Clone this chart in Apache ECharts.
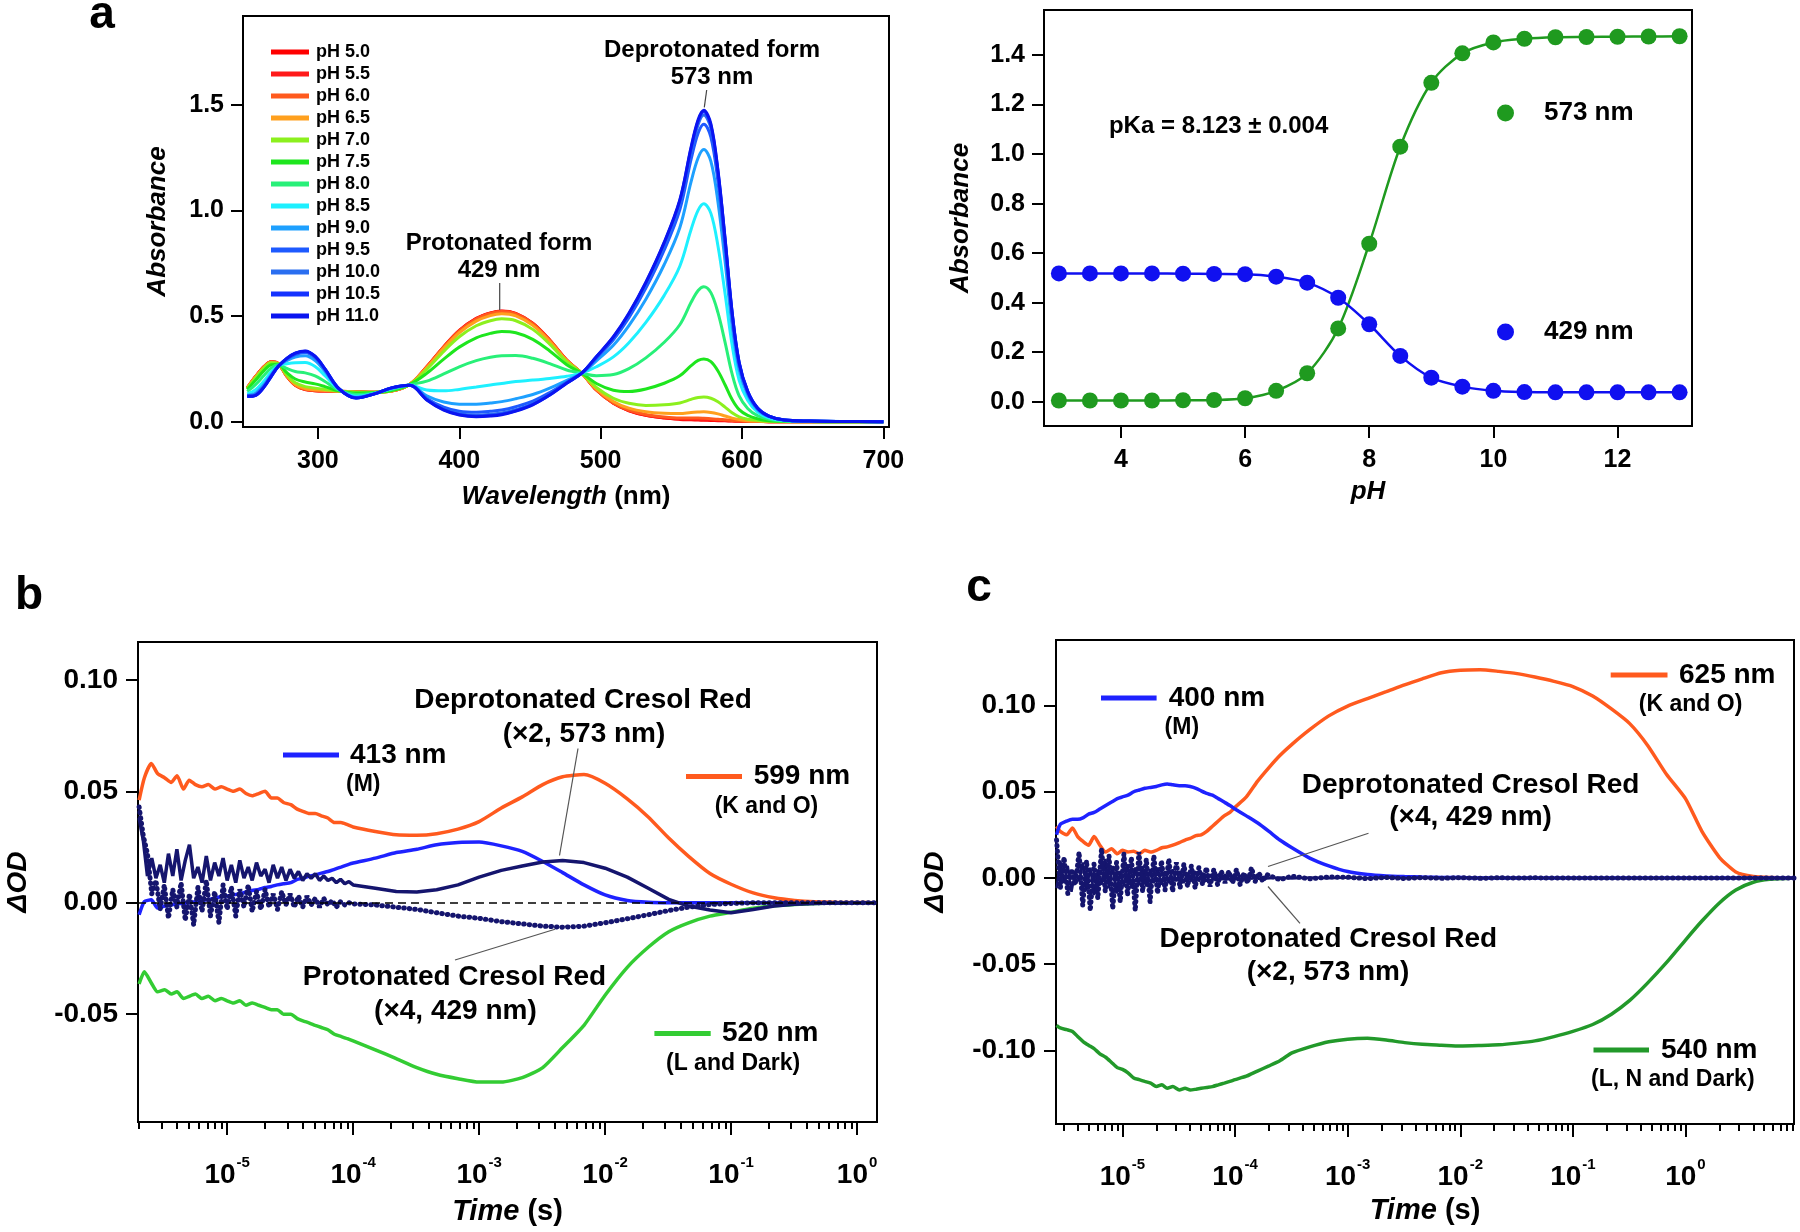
<!DOCTYPE html>
<html>
<head>
<meta charset="utf-8">
<title>Cresol red spectra and kinetics</title>
<script src="https://cdn.jsdelivr.net/npm/echarts@6/dist/echarts.min.js"></script>
<style>
  html, body { margin: 0; padding: 0; background: #fff; }
  #chart { width: 1800px; height: 1232px; }
</style>
</head>
<body>
<div id="chart"></div>
<script>
const FONT = '"Liberation Sans", Arial, Helvetica, sans-serif';

// ---- panel a (left): absorption spectra at different pH ----
const wavelength = [250,256,262,267,272,278,284,291,298,305,315,327,340,352,365,377,389,400,412,422,430,440,452,464,476,487,497,509,520,532,545,556,564,569,573,578,583,588,593,598,604,611,619,630,648,670,700];
const phLabels = ['pH 5.0','pH 5.5','pH 6.0','pH 6.5','pH 7.0','pH 7.5','pH 8.0','pH 8.5','pH 9.0','pH 9.5','pH 10.0','pH 10.5','pH 11.0'];
const phColors = ['#ff0000','#ff1a1a','#ff5a1e','#ffa01e','#8cf01e','#1ee61e','#28f078','#1ef0ff','#1ea0ff','#1e5aff','#2a6ef0','#1432ff','#0a14f0'];
const spec50 = [.160,.215,.262,.284,.275,.215,.172,.152,.147,.145,.144,.142,.140,.145,.177,.260,.355,.432,.489,.515,.524,.513,.466,.387,.292,.227,.150,.087,.052,.030,.017,.011,.009,.008,.007,.006,.005,.004,.003,.002,.001,.001,0,0,0,0,0];
const spec55 = [.160,.215,.262,.284,.275,.215,.172,.152,.147,.145,.144,.142,.140,.145,.177,.260,.354,.431,.488,.514,.523,.512,.465,.386,.292,.227,.150,.088,.053,.031,.019,.013,.012,.011,.010,.009,.007,.006,.004,.003,.001,.001,0,0,0,0,0];
const spec60 = [.160,.214,.261,.284,.275,.216,.173,.153,.148,.146,.144,.142,.140,.145,.177,.259,.353,.430,.486,.512,.521,.510,.464,.385,.291,.227,.151,.089,.055,.034,.022,.017,.017,.017,.016,.014,.012,.009,.006,.004,.002,.001,0,0,0,0,0];
const spec65 = [.159,.213,.259,.282,.275,.217,.176,.157,.151,.148,.144,.141,.140,.145,.177,.256,.347,.421,.476,.502,.511,.501,.456,.380,.289,.227,.154,.096,.064,.047,.040,.039,.044,.046,.047,.044,.037,.027,.017,.010,.005,.003,.001,0,0,0,0];
const spec70 = [.157,.208,.255,.279,.274,.221,.184,.166,.159,.153,.145,.140,.139,.146,.177,.248,.333,.402,.454,.478,.487,.478,.437,.367,.284,.227,.162,.111,.087,.077,.080,.089,.106,.115,.117,.111,.094,.069,.042,.023,.012,.006,.002,.001,0,0,0];
const spec75 = [.152,.197,.243,.270,.272,.232,.202,.188,.179,.166,.146,.136,.138,.148,.176,.229,.296,.353,.397,.418,.427,.421,.390,.335,.270,.228,.181,.149,.143,.155,.182,.217,.265,.290,.297,.284,.240,.175,.105,.057,.030,.014,.005,.002,.001,0,0];
const spec80 = [.143,.176,.220,.254,.269,.252,.238,.231,.217,.190,.149,.129,.137,.152,.175,.192,.226,.260,.289,.305,.312,.313,.300,.275,.245,.229,.218,.223,.251,.302,.376,.459,.565,.621,.639,.611,.516,.377,.226,.122,.063,.029,.012,.003,.001,0,0];
const spec85 = [.132,.152,.194,.236,.266,.274,.279,.280,.261,.218,.152,.121,.134,.156,.174,.150,.146,.153,.164,.174,.181,.190,.197,.205,.215,.231,.260,.307,.374,.470,.598,.736,.910,1.001,1.031,.986,.832,.608,.364,.196,.102,.046,.019,.006,.002,.001,0];
const spec90 = [.125,.136,.177,.224,.264,.289,.306,.312,.289,.237,.154,.116,.133,.158,.173,.123,.093,.083,.083,.089,.095,.109,.129,.159,.196,.231,.288,.362,.455,.580,.744,.918,1.136,1.249,1.288,1.232,1.040,.760,.454,.245,.127,.057,.024,.007,.003,.001,0];
const spec95 = [.122,.129,.169,.218,.263,.296,.318,.327,.303,.245,.155,.113,.132,.159,.172,.110,.069,.050,.045,.049,.055,.071,.097,.138,.187,.232,.301,.388,.492,.632,.813,1.003,1.242,1.366,1.408,1.347,1.137,.831,.497,.268,.139,.062,.026,.008,.003,.001,0];
const spec100 = [.121,.126,.167,.216,.262,.299,.323,.332,.307,.248,.155,.113,.132,.160,.172,.106,.060,.038,.031,.035,.041,.057,.086,.130,.184,.232,.306,.397,.506,.650,.837,1.033,1.279,1.407,1.451,1.388,1.171,.856,.512,.276,.143,.064,.027,.008,.003,.001,0];
const spec105 = [.120,.125,.166,.215,.262,.300,.324,.334,.309,.250,.155,.112,.132,.160,.172,.104,.057,.034,.026,.029,.036,.052,.082,.127,.183,.232,.307,.400,.511,.657,.846,1.045,1.294,1.423,1.467,1.403,1.184,.866,.517,.279,.144,.065,.027,.008,.003,.001,0];
const spec110 = [.120,.125,.165,.215,.262,.300,.325,.335,.310,.250,.155,.112,.132,.160,.172,.103,.055,.032,.024,.027,.033,.050,.080,.126,.182,.232,.308,.402,.513,.660,.850,1.050,1.300,1.430,1.474,1.410,1.190,.870,.520,.280,.145,.065,.027,.008,.003,.001,0];
const spectra = [spec50,spec55,spec60,spec65,spec70,spec75,spec80,spec85,spec90,spec95,spec100,spec105,spec110];

// ---- panel a (right): titration ----
const phPoints = [3,3.5,4,4.5,5,5.5,6,6.5,7,7.5,8,8.5,9,9.5,10,10.5,11,11.5,12,12.5,13];
const abs573 = [0.005,0.005,0.005,0.005,0.006,0.007,0.014,0.044,0.115,0.296,0.638,1.030,1.288,1.407,1.451,1.466,1.472,1.473,1.474,1.475,1.476];
const abs429 = [0.518,0.518,0.518,0.518,0.517,0.516,0.515,0.505,0.481,0.420,0.313,0.185,0.097,0.061,0.044,0.039,0.038,0.038,0.038,0.038,0.038];

// ---- panel b: transient absorption ----
const timeB = [2.0e-6,2.2e-6,2.5e-6,2.8e-6,3.2e-6,3.6e-6,4.0e-6,4.5e-6,5.0e-6,5.6e-6,6.3e-6,7.1e-6,8.0e-6,9.0e-6,
  1.0e-5,1.12e-5,1.26e-5,1.41e-5,1.58e-5,1.78e-5,2.0e-5,2.24e-5,2.5e-5,2.8e-5,3.2e-5,3.6e-5,4.0e-5,4.5e-5,5.0e-5,5.6e-5,6.3e-5,7.1e-5,8.0e-5,9.0e-5,
  1.0e-4,1.5e-4,2.2e-4,3.2e-4,4.6e-4,6.8e-4,1.0e-3,1.5e-3,2.2e-3,3.2e-3,4.6e-3,6.8e-3,
  1.0e-2,1.5e-2,2.2e-2,3.2e-2,4.6e-2,6.8e-2,0.1,0.15,0.22,0.32,0.46,0.68,1.0,1.4];
// denser sampling of the noisy early part for the cresol red traces
const timeBn = [2.00e-6,2.16e-6,2.33e-6,2.52e-6,2.72e-6,2.94e-6,3.17e-6,3.42e-6,3.70e-6,3.99e-6,4.31e-6,4.65e-6,5.02e-6,5.42e-6,5.86e-6,6.32e-6,6.83e-6,7.37e-6,7.96e-6,8.60e-6,9.28e-6,
  1.00e-5,1.08e-5,1.17e-5,1.26e-5,1.36e-5,1.47e-5,1.58e-5,1.71e-5,1.85e-5,2.00e-5,2.15e-5,2.32e-5,2.51e-5,2.71e-5,2.93e-5,3.16e-5,3.41e-5,3.68e-5,3.98e-5,4.30e-5,4.64e-5,5.01e-5,5.41e-5,5.84e-5,6.31e-5,6.81e-5,7.36e-5,7.94e-5,8.58e-5,9.26e-5,
  1.0e-4,1.5e-4,2.2e-4,3.2e-4,4.6e-4,6.8e-4,1.0e-3,1.5e-3,2.2e-3,3.2e-3,4.6e-3,6.8e-3,
  1.0e-2,1.5e-2,2.2e-2,3.2e-2,4.6e-2,6.8e-2,0.1,0.15,0.22,0.32,0.46,0.68,1.0,1.4];
const b599 = [0.046,0.056,0.0625,0.058,0.056,0.054,0.057,0.051,0.055,0.053,0.052,0.053,0.051,0.052,
  0.051,0.050,0.051,0.049,0.048,0.049,0.050,0.047,0.047,0.045,0.044,0.042,0.041,0.040,0.040,0.039,0.038,0.036,0.036,0.035,
  0.034,0.032,0.0305,0.0303,0.031,0.033,0.0364,0.0425,0.0475,0.053,0.0565,0.0575,
  0.0536,0.0466,0.0385,0.029,0.0208,0.0131,0.0083,0.0044,0.0022,0.001,0.0004,0.0002,0.0001,0];
const b413 = [-0.0054,0.0005,0.0013,-0.0024,-0.0015,-0.001,-0.0005,-0.0003,0.0,0.0005,0.001,0.0015,0.002,0.0028,
  0.003,0.0035,0.004,0.0048,0.0055,0.006,0.0068,0.0073,0.008,0.0085,0.009,0.0105,0.011,0.012,0.0125,0.0133,0.014,0.015,0.016,0.017,
  0.0178,0.020,0.0225,0.024,0.026,0.027,0.0272,0.0255,0.023,0.0185,0.0135,0.008,
  0.0035,0.001,0.0002,0,0,0,0,0,0,0,0,0,0,0];
const b573x2 = [0.038,0.028,0.012,0.020,0.011,0.017,0.009,0.022,0.012,0.024,0.010,0.019,0.026,0.011,0.016,0.009,0.021,0.010,0.018,0.012,0.020,
  0.010,0.017,0.009,0.019,0.011,0.016,0.010,0.018,0.012,0.015,0.009,0.017,0.011,0.016,0.010,0.015,0.011,0.014,0.010,0.013,0.011,0.013,0.010,0.012,0.010,0.011,0.009,0.0105,0.0085,0.0095,
  0.008,0.0065,0.005,0.0048,0.0058,0.008,0.0115,0.0145,0.0165,0.0183,0.019,0.018,
  0.0155,0.0115,0.0065,0.0015,-0.0015,-0.0033,-0.0045,-0.003,-0.0015,-0.0007,-0.0003,-0.0001,0,0];
const b429x4 = [0.043,0.030,0.022,0.004,0.010,-0.003,0.008,-0.007,0.006,-0.002,0.009,-0.008,0.004,-0.010,0.007,-0.004,0.010,-0.006,0.005,-0.009,0.008,
  -0.003,0.007,-0.006,0.006,-0.002,0.008,-0.004,0.005,-0.003,0.006,-0.002,0.004,-0.003,0.005,-0.001,0.004,-0.002,0.003,-0.002,0.003,-0.001,0.002,-0.002,0.002,-0.001,0.001,-0.002,0.0005,-0.001,0.0,
  -0.0005,-0.001,-0.002,-0.003,-0.0045,-0.006,-0.007,-0.0085,-0.0095,-0.0105,-0.011,-0.0105,
  -0.009,-0.0072,-0.0054,-0.0035,-0.002,-0.0008,-0.0003,0,0,0,0,0,0,0];
const b520 = [-0.0365,-0.031,-0.036,-0.040,-0.039,-0.041,-0.040,-0.043,-0.042,-0.041,-0.043,-0.042,-0.044,-0.043,
  -0.044,-0.045,-0.044,-0.046,-0.045,-0.046,-0.047,-0.048,-0.048,-0.050,-0.050,-0.052,-0.053,-0.054,-0.055,-0.056,-0.057,-0.059,-0.060,-0.061,
  -0.062,-0.066,-0.070,-0.074,-0.077,-0.079,-0.0805,-0.0805,-0.0785,-0.074,-0.065,-0.055,
  -0.0415,-0.029,-0.020,-0.013,-0.009,-0.006,-0.0043,-0.0025,-0.0014,-0.0008,-0.0004,-0.0002,-0.0001,0];

// ---- panel c: transient absorption ----
const timeC = [2.6e-6,2.8e-6,3.2e-6,3.6e-6,4.0e-6,4.5e-6,5.0e-6,5.6e-6,6.3e-6,7.1e-6,8.0e-6,9.0e-6,
  1.0e-5,1.12e-5,1.26e-5,1.41e-5,1.58e-5,1.78e-5,2.0e-5,2.24e-5,2.5e-5,2.8e-5,3.2e-5,3.6e-5,4.0e-5,4.5e-5,5.0e-5,5.6e-5,6.3e-5,7.1e-5,8.0e-5,9.0e-5,
  1.0e-4,1.26e-4,1.58e-4,2.0e-4,2.5e-4,3.2e-4,4.6e-4,6.8e-4,
  1.0e-3,1.5e-3,2.2e-3,3.2e-3,4.6e-3,6.8e-3,
  1.0e-2,1.5e-2,2.2e-2,3.2e-2,4.6e-2,6.8e-2,
  0.1,0.15,0.22,0.32,0.46,0.68,
  1.0,1.4,2.0,2.8,4.0,5.6,9.2];
const timeCn = [2.60e-6,2.81e-6,3.03e-6,3.27e-6,3.53e-6,3.81e-6,4.12e-6,4.44e-6,4.80e-6,5.18e-6,5.59e-6,6.04e-6,6.52e-6,7.04e-6,7.60e-6,8.20e-6,8.86e-6,9.56e-6,
  1.03e-5,1.11e-5,1.20e-5,1.30e-5,1.40e-5,1.51e-5,1.63e-5,1.76e-5,1.90e-5,2.05e-5,2.22e-5,2.39e-5,2.58e-5,2.79e-5,3.01e-5,3.25e-5,3.51e-5,3.79e-5,4.09e-5,4.42e-5,4.77e-5,5.15e-5,5.56e-5,6.00e-5,6.48e-5,7.00e-5,7.55e-5,8.15e-5,8.80e-5,9.50e-5,
  1.03e-4,1.11e-4,1.20e-4,1.29e-4,1.40e-4,1.51e-4,1.63e-4,1.76e-4,1.90e-4,
  2.5e-4,3.2e-4,4.6e-4,6.8e-4,
  1.0e-3,1.5e-3,2.2e-3,3.2e-3,4.6e-3,6.8e-3,
  1.0e-2,1.5e-2,2.2e-2,3.2e-2,4.6e-2,6.8e-2,
  0.1,0.15,0.22,0.32,0.46,0.68,
  1.0,1.4,2.0,2.8,4.0,5.6,9.2];
const c625 = [0.030,0.027,0.025,0.029,0.024,0.021,0.019,0.024,0.019,0.015,0.017,0.014,
  0.016,0.015,0.0155,0.014,0.016,0.015,0.016,0.0175,0.018,0.019,0.0205,0.022,0.023,0.0245,0.025,0.027,0.030,0.033,0.036,0.038,
  0.041,0.047,0.056,0.064,0.071,0.0775,0.086,0.094,
  0.0997,0.104,0.108,0.112,0.1155,0.119,
  0.1205,0.1208,0.1198,0.1185,0.1165,0.114,
  0.111,0.1055,0.098,0.0895,0.077,0.060,
  0.046,0.027,0.012,0.0035,0.0008,0.0002,0];
const c400 = [0.025,0.031,0.033,0.034,0.034,0.035,0.037,0.038,0.040,0.042,0.044,0.046,
  0.047,0.048,0.050,0.051,0.052,0.0525,0.053,0.054,0.0545,0.054,0.0535,0.0535,0.053,0.052,0.0505,0.049,0.048,0.046,0.044,0.042,
  0.040,0.036,0.032,0.027,0.022,0.0175,0.0115,0.007,
  0.0037,0.002,0.0012,0.0008,0.0005,0.0003,
  0.0002,0,0,0,0,0,
  0,0,0,0,0,0,
  0,0,0,0,0,0,0];
const c573x2 = [-0.006,0.010,-0.003,0.007,-0.008,0.004,-0.002,0.009,-0.007,0.006,-0.010,0.005,-0.004,0.011,-0.006,0.007,-0.009,0.004,
  -0.005,0.008,-0.006,0.006,-0.004,0.007,-0.005,0.005,-0.003,0.006,-0.004,0.004,-0.003,0.005,-0.002,0.004,-0.003,0.003,-0.002,0.004,-0.002,0.003,-0.002,0.002,-0.001,0.002,-0.001,0.002,-0.001,0.001,
  -0.001,0.0015,-0.0008,0.001,-0.0005,0.0008,-0.0005,0.0005,-0.0003,
  0.0003,-0.0003,0.0003,-0.0002,
  0.0002,-0.0002,0.0002,-0.0002,0.0001,-0.0001,
  0.0001,-0.0001,0.0001,-0.0001,0,0,
  0,0,0,0,0,0,
  0,0,0,0,0,0,0];
const c429x4 = [0.022,-0.006,0.012,-0.009,0.005,-0.004,0.015,-0.016,0.010,-0.019,0.008,-0.012,0.017,-0.008,0.013,-0.018,0.009,-0.014,
  0.014,-0.010,0.012,-0.019,0.015,-0.008,0.011,-0.014,0.013,-0.009,0.010,-0.007,0.011,-0.008,0.009,-0.006,0.008,-0.005,0.007,-0.006,0.006,-0.004,0.006,-0.005,0.005,-0.004,0.004,-0.003,0.004,-0.003,
  0.005,-0.004,0.003,-0.003,0.006,-0.002,0.003,-0.002,0.002,
  -0.001,0.001,-0.0005,0.0005,
  0.0004,-0.0004,0.0003,-0.0003,0.0002,-0.0002,
  0.0002,-0.0002,0.0001,-0.0001,0.0001,-0.0001,
  0,0,0,0,0,0,
  0,0,0,0,0,0,0];
const c540 = [-0.0855,-0.087,-0.088,-0.089,-0.092,-0.095,-0.097,-0.099,-0.102,-0.104,-0.107,-0.110,
  -0.111,-0.113,-0.116,-0.117,-0.118,-0.119,-0.121,-0.120,-0.122,-0.121,-0.123,-0.122,-0.123,-0.1225,-0.122,-0.1215,-0.121,-0.120,-0.119,-0.118,
  -0.117,-0.115,-0.112,-0.109,-0.106,-0.1015,-0.098,-0.095,
  -0.0935,-0.093,-0.094,-0.0955,-0.0965,-0.097,
  -0.0975,-0.0972,-0.0968,-0.0958,-0.0945,-0.092,
  -0.089,-0.085,-0.079,-0.071,-0.061,-0.049,
  -0.036,-0.025,-0.0145,-0.007,-0.0025,-0.0008,0];

// ---- tick values ----
const xTicksA = [300,400,500,600,700];
const yTicksA = [0,0.5,1.0,1.5];
const xTicksPH = [4,6,8,10,12];
const yTicksPH = [0,0.2,0.4,0.6,0.8,1.0,1.2,1.4];
const decades = [1e-5,1e-4,1e-3,1e-2,1e-1,1];
const yTicksB = [-0.05,0,0.05,0.10];
const yTicksC = [-0.10,-0.05,0,0.05,0.10];

const GREEN_A = '#1f9a1f', BLUE_A = '#1010f0';
const ORANGE = '#ff5a1e', BLUE = '#1e22ff', NAVY = '#15156e', GREEN_B = '#33cc33', GREEN_C = '#22992a';

const chart = echarts.init(document.getElementById('chart'));

function minorTicks(min, max) {
  const out = [];
  [1e-6,1e-5,1e-4,1e-3,1e-2,1e-1,1].forEach(function (d) {
    for (let k = 2; k <= 9; k++) {
      const v = k * d;
      if (v >= min && v <= max) out.push(v);
    }
  });
  return out;
}
function tickCfg(values, len) {
  return {show: true, inside: false, length: len, customValues: values, lineStyle: {color: '#000', width: 2}};
}
function labelCfg(values, size, margin, fmt) {
  return {show: true, customValues: values, margin: margin, formatter: fmt, color: '#000',
    fontFamily: FONT, fontSize: size, fontWeight: 'bold'};
}
function nameStyle(size) {
  return {fontFamily: FONT, fontSize: size, fontWeight: 'bold', color: '#000',
    rich: {
      i: {fontFamily: FONT, fontSize: size, fontWeight: 'bold', fontStyle: 'italic', color: '#000'},
      n: {fontFamily: FONT, fontSize: size, fontWeight: 'bold', color: '#000'}
    }};
}
function logLabel(v) {
  return '{b|10}{s|' + Math.round(Math.log10(v)) + '}';
}
const logRich = {
  b: {fontFamily: FONT, fontSize: 28, fontWeight: 'bold', color: '#000', verticalAlign: 'bottom'},
  s: {fontFamily: FONT, fontSize: 15, fontWeight: 'bold', color: '#000', verticalAlign: 'bottom', padding: [0, 0, 19, 1]}
};
const noLine = {show: false, onZero: false};

function valueX(grid, min, max, ticks, name, gap, size) {
  return {gridIndex: grid, type: 'value', min: min, max: max, position: 'bottom',
    name: name, nameLocation: 'middle', nameGap: gap, nameTextStyle: nameStyle(size),
    axisLine: noLine, splitLine: {show: false},
    axisTick: tickCfg(ticks, 12), axisLabel: labelCfg(ticks, 25, 22, function (v) { return String(v); })};
}
function logX(grid, min, max, name, gap) {
  const lab = labelCfg(decades, 28, 33, logLabel);
  lab.rich = logRich;
  return {gridIndex: grid, type: 'log', logBase: 10, min: min, max: max, position: 'bottom',
    name: name, nameLocation: 'middle', nameGap: gap, nameTextStyle: nameStyle(29),
    axisLine: noLine, splitLine: {show: false},
    axisTick: tickCfg(decades, 13), axisLabel: lab};
}
function minorX(grid, min, max) {
  return {gridIndex: grid, type: 'log', logBase: 10, min: min, max: max, position: 'bottom', offset: 0,
    axisLine: noLine, splitLine: {show: false}, axisLabel: {show: false},
    axisTick: tickCfg(minorTicks(min, max), 7)};
}
function valueY(grid, min, max, ticks, name, gap, size, lsize, digits, margin) {
  return {gridIndex: grid, type: 'value', min: min, max: max, position: 'left',
    name: '{i|' + name + '}', nameLocation: 'middle', nameGap: gap, nameRotate: 90, nameTextStyle: nameStyle(size),
    axisLine: noLine, splitLine: {show: false},
    axisTick: tickCfg(ticks, 12),
    axisLabel: labelCfg(ticks, lsize, margin, function (v) { return v.toFixed(digits); })};
}

function zip(xs, ys) { return xs.map(function (x, i) { return [x, ys[i]]; }); }

function trace(name, xi, yi, times, vals, color, width, dotted) {
  return {type: 'line', name: name, xAxisIndex: xi, yAxisIndex: yi, data: zip(times, vals),
    showSymbol: false, symbol: 'none', smooth: dotted ? false : 0.2,
    lineStyle: dotted ? {color: color, width: 5, type: [0.5, 5], cap: 'round'} : {color: color, width: width},
    itemStyle: {color: color}, emphasis: {disabled: true}, z: 3};
}

const series = [];
spectra.forEach(function (vals, i) {
  series.push({type: 'line', name: phLabels[i], xAxisIndex: 0, yAxisIndex: 0, data: zip(wavelength, vals),
    showSymbol: false, symbol: 'none', smooth: 0.35,
    lineStyle: {color: phColors[i], width: 3}, itemStyle: {color: phColors[i]}, emphasis: {disabled: true}});
});
series.push({type: 'line', name: '573 nm', xAxisIndex: 1, yAxisIndex: 1, data: zip(phPoints, abs573),
  smooth: 0.3, symbol: 'circle', symbolSize: 16, showSymbol: true,
  lineStyle: {color: GREEN_A, width: 2.5}, itemStyle: {color: GREEN_A}, emphasis: {disabled: true}});
series.push({type: 'line', name: '429 nm', xAxisIndex: 1, yAxisIndex: 1, data: zip(phPoints, abs429),
  smooth: 0.3, symbol: 'circle', symbolSize: 16, showSymbol: true,
  lineStyle: {color: BLUE_A, width: 2.5}, itemStyle: {color: BLUE_A}, emphasis: {disabled: true}});

const b413Series = trace('b 413 nm', 2, 2, timeB, b413, BLUE, 3.5, false);
b413Series.markLine = {silent: true, symbol: ['none', 'none'], label: {show: false},
  lineStyle: {type: [8, 5], color: '#000', width: 1.5}, data: [{yAxis: 0}]};
series.push(trace('b 520 nm', 2, 2, timeB, b520, GREEN_B, 3.5, false));
series.push(b413Series);
series.push(trace('b 599 nm', 2, 2, timeB, b599, ORANGE, 3.5, false));
series.push(trace('b 429 nm x4', 2, 2, timeBn, b429x4, NAVY, 3.5, true));
const b573Series = trace('b 573 nm x2', 2, 2, timeBn, b573x2, NAVY, 3.5, false);
b573Series.smooth = false;
series.push(b573Series);

series.push(trace('c 540 nm', 4, 3, timeC, c540, GREEN_C, 3.5, false));
series.push(trace('c 625 nm', 4, 3, timeC, c625, ORANGE, 3.5, false));
series.push(trace('c 400 nm', 4, 3, timeC, c400, BLUE, 3.5, false));
const c573Series = trace('c 573 nm x2', 4, 3, timeCn, c573x2, NAVY, 2.5, false);
c573Series.smooth = false;
series.push(c573Series);
series.push(trace('c 429 nm x4', 4, 3, timeCn, c429x4, NAVY, 3.5, true));

// ---- annotations ----
const graphics = [];
function addText(x, y, text, size, align) {
  const a = align || 'center';
  graphics.push({type: 'text', x: x, y: y, silent: true, z: 100,
    style: {text: text, fill: '#000', fontFamily: FONT, fontSize: size, fontWeight: 'bold',
      align: a, verticalAlign: 'middle', textAlign: a, textVerticalAlign: 'middle'}});
}
function addLine(x1, y1, x2, y2, color, width) {
  graphics.push({type: 'line', silent: true, z: 100, shape: {x1: x1, y1: y1, x2: x2, y2: y2},
    style: {stroke: color, lineWidth: width}});
}
addText(102, 15, 'a', 46);
addText(29, 596, 'b', 46);
addText(979, 588, 'c', 46);

addText(712, 50, 'Deprotonated form', 24);
addText(712, 77, '573 nm', 24);
addLine(706.7, 90, 704.3, 107.3, '#444', 1.2);
addText(499, 243, 'Protonated form', 24);
addText(499, 270, '429 nm', 24);
addLine(499.7, 283, 499.7, 310, '#444', 1.2);
addText(1218.6, 126, 'pKa = 8.123 \u00b1 0.004', 24);

addLine(283, 755, 339, 755, BLUE, 5);
addText(350, 755, '413 nm', 28, 'left');
addText(346, 785, '(M)', 23, 'left');
addLine(686, 776.5, 742, 776.5, ORANGE, 5);
addText(753.7, 776.5, '599 nm', 28, 'left');
addText(714.7, 807, '(K and O)', 23, 'left');
addLine(654.4, 1033.6, 710.7, 1033.6, GREEN_B, 5);
addText(722, 1033.6, '520 nm', 28, 'left');
addText(666, 1063.6, '(L and Dark)', 23, 'left');
addText(583, 700, 'Deprotonated Cresol Red', 28);
addText(584, 734, '(\u00d72, 573 nm)', 28);
addLine(578, 748.5, 559.5, 855.5, '#555', 1.2);
addText(454.5, 977, 'Protonated Cresol Red', 28);
addText(455.4, 1011, '(\u00d74, 429 nm)', 28);
addLine(455, 960, 555, 929.3, '#555', 1.2);

addLine(1101, 698, 1156.6, 698, BLUE, 5);
addText(1168.7, 698, '400 nm', 28, 'left');
addText(1164.6, 728, '(M)', 23, 'left');
addLine(1610.7, 675, 1667.5, 675, ORANGE, 5);
addText(1679, 675, '625 nm', 28, 'left');
addText(1638.8, 705, '(K and O)', 23, 'left');
addLine(1593.5, 1050, 1649, 1050, GREEN_C, 5);
addText(1661, 1050, '540 nm', 28, 'left');
addText(1591, 1079.5, '(L, N and Dark)', 23, 'left');
addText(1470.6, 785, 'Deprotonated Cresol Red', 28);
addText(1470.6, 817, '(\u00d74, 429 nm)', 28);
addLine(1368.5, 833.3, 1268, 866.5, '#555', 1.2);
addText(1328.3, 939.3, 'Deprotonated Cresol Red', 28);
addText(1328, 972.3, '(\u00d72, 573 nm)', 28);
addLine(1300, 923.3, 1268, 886.5, '#555', 1.2);

const gridBase = {show: true, borderColor: '#000', borderWidth: 2, backgroundColor: 'transparent',
  containLabel: false, outerBoundsMode: 'none'};

const option = {
  animation: false,
  backgroundColor: '#fff',
  grid: [
    Object.assign({left: 243, top: 16, width: 646, height: 411}, gridBase),
    Object.assign({left: 1044, top: 10, width: 648, height: 416}, gridBase),
    Object.assign({left: 138, top: 642, width: 739, height: 480}, gridBase),
    Object.assign({left: 1056, top: 640, width: 738, height: 484}, gridBase)
  ],
  xAxis: [
    valueX(0, 247, 704, xTicksA, '{i|Wavelength} {n|(nm)}', 57, 26),
    valueX(1, 2.76, 13.2, xTicksPH, '{i|pH}', 53, 26),
    logX(2, 1.96e-6, 1.44, '{i|Time} {n|(s)}', 75),
    minorX(2, 1.96e-6, 1.44),
    logX(3, 2.57e-6, 9.2, '{i|Time} {n|(s)}', 72),
    minorX(3, 2.57e-6, 9.2)
  ],
  yAxis: [
    valueY(0, -0.025, 1.92, yTicksA, 'Absorbance', 72, 26, 25, 1, 19),
    valueY(1, -0.098, 1.582, yTicksPH, 'Absorbance', 70, 26, 25, 1, 19),
    valueY(2, -0.0984, 0.117, yTicksB, '\u0394OD', 106, 28, 28, 2, 20),
    valueY(3, -0.1427, 0.138, yTicksC, '\u0394OD', 107, 28, 28, 2, 20)
  ],
  legend: [
    {data: phLabels, orient: 'vertical', left: 271, top: 41, icon: 'rect', itemWidth: 38, itemHeight: 5,
      itemGap: 0, padding: 0, selectedMode: false,
      textStyle: {fontFamily: FONT, fontSize: 18, fontWeight: 'bold', color: '#000', lineHeight: 22, padding: [0, 0, 0, 2]}},
    {data: ['573 nm'], left: 1497, top: 98, icon: 'circle', itemWidth: 17, itemHeight: 17, padding: 0, selectedMode: false,
      textStyle: {fontFamily: FONT, fontSize: 26, fontWeight: 'bold', color: '#000', lineHeight: 30, padding: [0, 0, 0, 25]}},
    {data: ['429 nm'], left: 1497, top: 317, icon: 'circle', itemWidth: 17, itemHeight: 17, padding: 0, selectedMode: false,
      textStyle: {fontFamily: FONT, fontSize: 26, fontWeight: 'bold', color: '#000', lineHeight: 30, padding: [0, 0, 0, 25]}}
  ],
  graphic: graphics,
  series: series
};
chart.setOption(option);
</script>
</body>
</html>
